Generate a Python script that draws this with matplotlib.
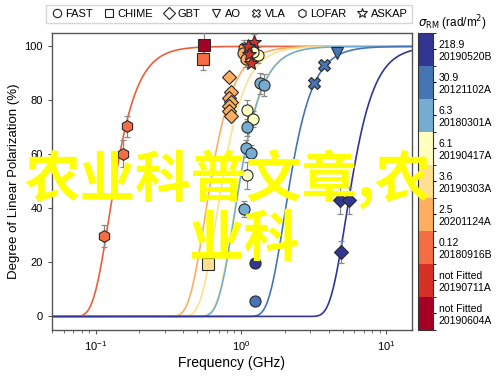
import numpy as np
import matplotlib
matplotlib.use("Agg")
import matplotlib.pyplot as plt
from matplotlib.colors import ListedColormap, BoundaryNorm
from matplotlib.lines import Line2D
from matplotlib.colorbar import ColorbarBase

plt.rcParams['font.family'] = ['Liberation Sans', 'DejaVu Sans']

# ---- colour key (bottom -> top) ----
cb_colors = ['#a50026', '#d73027', '#f46d43', '#fdae61', '#fee090',
             '#ffffbf', '#74add1', '#4575b4', '#313695']
cb_labels = ['not Fitted\n20190604A', 'not Fitted\n20190711A', '0.12\n20180916B',
             '2.5\n20201124A', '3.6\n20190303A', '6.1\n20190417A',
             '6.3\n20180301A', '30.9\n20121102A', '218.9\n20190520B']

# ---- depolarisation curves ----
curve_sigma = [0.12, 2.5, 3.6, 6.1, 6.3, 30.9, 218.9]
curve_color = ['#ea5f3c', '#fdae61', '#fee090', '#fff5b0', '#74add1', '#4575b4', '#313695']

# ---- data points: (freq GHz, pol %, err, colour) ----
fast_f = [1.05, 1.03, 1.08, 1.15, 1.31, 1.21, 1.35, 1.44, 1.10, 1.20, 1.10, 1.08, 1.17, 1.09, 1.05, 1.25, 1.25]
fast_p = [99.5, 97.5, 95.5, 98.5, 96.7, 97.8, 86.3, 85.6, 76.3, 73.2, 70.0, 62.2, 60.4, 52.2, 39.9, 19.7, 5.7]
fast_e = [3, 3, 3, 3, 3, 3, 4, 4, 4, 3, 3, 3, 3, 5, 3, 0, 0]
fast_c = ['#fdae61', '#fdae61', '#fdae61', '#fdae61', '#ffffbf', '#ffffbf', '#74add1', '#74add1',
          '#ffffbf', '#ffffbf', '#74add1', '#74add1', '#74add1', '#ffffbf', '#74add1', '#313695', '#4575b4']

chime_f = [0.557, 0.55, 0.59]
chime_p = [100.4, 95.2, 19.6]
chime_e = [5, 4, 0]
chime_c = ['#a50026', '#f46d43', '#fee090']

gbt_f = [0.827, 0.854, 0.827, 0.854, 0.827, 0.827, 0.854, 4.81, 5.54, 4.86]
gbt_p = [88.6, 83.0, 81.0, 79.4, 78.0, 76.0, 74.4, 43.0, 43.0, 23.8]
gbt_e = [0, 0, 0, 0, 0, 0, 0, 5, 5, 4]
gbt_c = ['#fdae61'] * 7 + ['#313695'] * 3

ao_f = [4.57]
ao_p = [97.5]
ao_c = ['#4575b4']

vla_f = [3.70, 3.19]
vla_p = [93.2, 86.4]
vla_c = ['#4575b4', '#4575b4']

lofar_f = [0.163, 0.153, 0.114]
lofar_p = [70.4, 60.3, 29.8]
lofar_e = [4, 5, 4]
lofar_c = ['#f46d43'] * 3

askap_f = [1.23, 1.11, 1.14, 1.17]
askap_p = [101.5, 100.0, 97.0, 94.0]
askap_e = [3, 0, 0, 0]
askap_c = ['#d73027'] * 4

fig = plt.figure(figsize=(5.0, 3.78), dpi=100)
ax = fig.add_axes([0.104, 0.127, 0.72, 0.786])

c_light = 0.299792458
f = np.logspace(np.log10(0.05), np.log10(15), 800)
lam = c_light / f
for s, col in zip(curve_sigma, curve_color):
    ax.plot(f, 100 * np.exp(-2 * s**2 * lam**4), color=col, lw=1.2, zorder=2)

def draw(fs, ps, es, cs, marker, ms):
    for x, y, e, c in zip(fs, ps, es, cs):
        if e:
            ax.errorbar(x, y, yerr=e, fmt='none', ecolor='#8a8a8a', elinewidth=0.9,
                        capsize=2.5, capthick=0.9, zorder=3)
        ax.plot(x, y, marker=marker, ms=ms, mfc=c, mec='#2a2a2a', mew=0.8,
                ls='none', zorder=4)

draw(fast_f, fast_p, fast_e, fast_c, 'o', 8)
draw(chime_f, chime_p, chime_e, chime_c, 's', 8)
draw(gbt_f, gbt_p, gbt_e, gbt_c, 'D', 7)
draw(ao_f, ao_p, [0], ao_c, 'v', 8.5)
draw(vla_f, vla_p, [0, 0], vla_c, 'X', 8.5)
draw(lofar_f, lofar_p, lofar_e, lofar_c, 'h', 8.5)
draw(askap_f, askap_p, askap_e, askap_c, '*', 10.5)

ax.set_xscale('log')
ax.set_xlim(0.05, 15)
ax.set_ylim(-5, 105)
ax.set_yticks([0, 20, 40, 60, 80, 100])
ax.set_xlabel('Frequency (GHz)', fontsize=10, labelpad=2)
ax.set_ylabel('Degree of Linear Polarization (%)', fontsize=9.5, labelpad=3)
ax.tick_params(labelsize=8, color='#555555', length=3)
ax.tick_params(which='minor', color='#555555', length=2)
for sp in ax.spines.values():
    sp.set_color('#555555')
    sp.set_linewidth(1.0)

# legend
handles = [Line2D([], [], marker=m, ls='none', mfc='white', mec='#222222', mew=0.8, ms=s)
           for m, s in zip(['o', 's', 'D', 'v', 'X', 'h', '*'], [6, 6, 6, 6, 6, 6, 7])]
names = ['FAST', 'CHIME', 'GBT', 'AO', 'VLA', 'LOFAR', 'ASKAP']
fig.legend(handles, names, loc='center', bbox_to_anchor=(0.458, 0.962), ncol=7,
           fontsize=8, frameon=True, handletextpad=0.2, columnspacing=0.8,
           handlelength=1.2, borderpad=0.35, fancybox=False, edgecolor='#cccccc')

# colorbar
cax = fig.add_axes([0.836, 0.127, 0.03, 0.786])
cmap = ListedColormap(cb_colors)
norm = BoundaryNorm(np.arange(len(cb_colors) + 1), cmap.N)
cb = ColorbarBase(cax, cmap=cmap, norm=norm, orientation='vertical')
cb.set_ticks(np.arange(len(cb_colors)) + 0.5)
cb.set_ticklabels(cb_labels)
cax.tick_params(labelsize=7.5, length=2, pad=2)
cb.outline.set_edgecolor('#333333')
cax.set_title(r'$\sigma_{\rm RM}$ (rad/m$^2$)', fontsize=8.5, pad=4, x=2.3)

# watermark
wm_font = ['Noto Sans CJK SC', 'DejaVu Sans']
fig.text(228 / 500, 1 - 180 / 378, '农业科普文章,农', family=wm_font, fontsize=40,
         weight='bold', color='#ffff00', ha='center', va='center', zorder=10)
fig.text(244 / 500, 1 - 240 / 378, '业科', family=wm_font, fontsize=40,
         weight='bold', color='#ffff00', ha='center', va='center', zorder=10)

fig.savefig('out.png', dpi=100)
